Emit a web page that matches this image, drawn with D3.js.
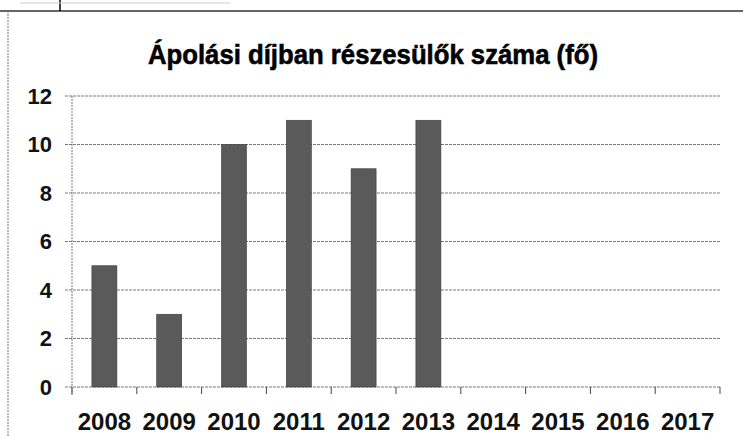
<!DOCTYPE html>
<html><head><meta charset="utf-8">
<script src="https://cdn.jsdelivr.net/npm/d3@7"></script>
<style>body{margin:0;background:#fff}svg{display:block}</style>
</head><body>
<script>
const years = ["2008","2009","2010","2011","2012","2013","2014","2015","2016","2017"];
const values = [5,3,10,11,9,11,null,null,null,null];
const yTicks = [0,2,4,6,8,10,12];
const title = "Ápolási díjban részesülők száma (fő)";

const W=743,H=436;
const svg=d3.select("body").append("svg").attr("width",W).attr("height",H);
svg.append("rect").attr("width",W).attr("height",H).attr("fill","#fff");

// frame fragments
svg.append("line").attr("x1",0).attr("x2",W).attr("y1",11).attr("y2",11).attr("stroke","#666").attr("stroke-width",2);
svg.append("line").attr("x1",8).attr("x2",8).attr("y1",11).attr("y2",H).attr("stroke","#777").attr("stroke-width",1).attr("stroke-dasharray","2,1");
svg.append("line").attr("x1",60).attr("x2",60).attr("y1",0).attr("y2",11).attr("stroke","#000").attr("stroke-width",1.5);
svg.append("line").attr("x1",20).attr("x2",230).attr("y1",3).attr("y2",3).attr("stroke","#ccc").attr("stroke-width",1);

const xb=d3.scaleBand().domain(years).range([72,720]);
const y=d3.scaleLinear().domain([0,12]).range([387,96]);

// gridlines
svg.append("g").selectAll("line").data(yTicks).join("line")
  .attr("x1",65).attr("x2",720).attr("y1",d=>y(d)).attr("y2",d=>y(d))
  .attr("stroke","#7a7a7a").attr("stroke-width",1).attr("stroke-dasharray","3,1");

// y axis line
svg.append("line").attr("x1",72).attr("x2",72).attr("y1",y(12)).attr("y2",y(0)+8)
  .attr("stroke","#777").attr("stroke-dasharray","2,1");

// bars
svg.append("g").selectAll("rect").data(years.map((yr,i)=>({yr,v:values[i]})).filter(d=>d.v!=null)).join("rect")
  .attr("x",d=>xb(d.yr)+xb.bandwidth()/2-12.5).attr("width",25)
  .attr("y",d=>y(d.v)).attr("height",d=>y(0)-y(d.v))
  .attr("fill","#5a5a5a").attr("stroke","#3a3a3a").attr("stroke-width",0.6);

// x axis labels
const xa=svg.append("g").attr("transform",`translate(0,${y(0)})`)
  .call(d3.axisBottom(xb).tickSize(0).tickPadding(26).tickFormat(d=>d));
xa.select(".domain").remove();
xa.selectAll("text").attr("font-family","Liberation Sans, Arial, sans-serif").attr("font-weight","bold").attr("font-size",24).attr("fill","#111");
const bounds=[...years.map(d=>xb(d)),720];
svg.append("g").selectAll("line").data(bounds).join("line")
  .attr("x1",d=>d).attr("x2",d=>d).attr("y1",y(0)).attr("y2",y(0)+7).attr("stroke","#444");

// y axis labels
const ya=svg.append("g").attr("transform","translate(72,0)")
  .call(d3.axisLeft(y).tickValues(yTicks).tickSize(0).tickPadding(20));
ya.select(".domain").remove();
ya.selectAll("text").attr("font-family","Liberation Sans, Arial, sans-serif").attr("font-weight","bold").attr("font-size",22).attr("fill","#111");

// title
svg.append("text").attr("x",373).attr("y",64).attr("text-anchor","middle")
  .attr("font-family","Liberation Sans, Arial, sans-serif").attr("font-weight","bold")
  .attr("font-size",28).attr("fill","#000").attr("stroke","#000").attr("stroke-width",0.6)
  .attr("textLength",450).attr("lengthAdjust","spacingAndGlyphs")
  .text(title);
</script>
</body></html>
